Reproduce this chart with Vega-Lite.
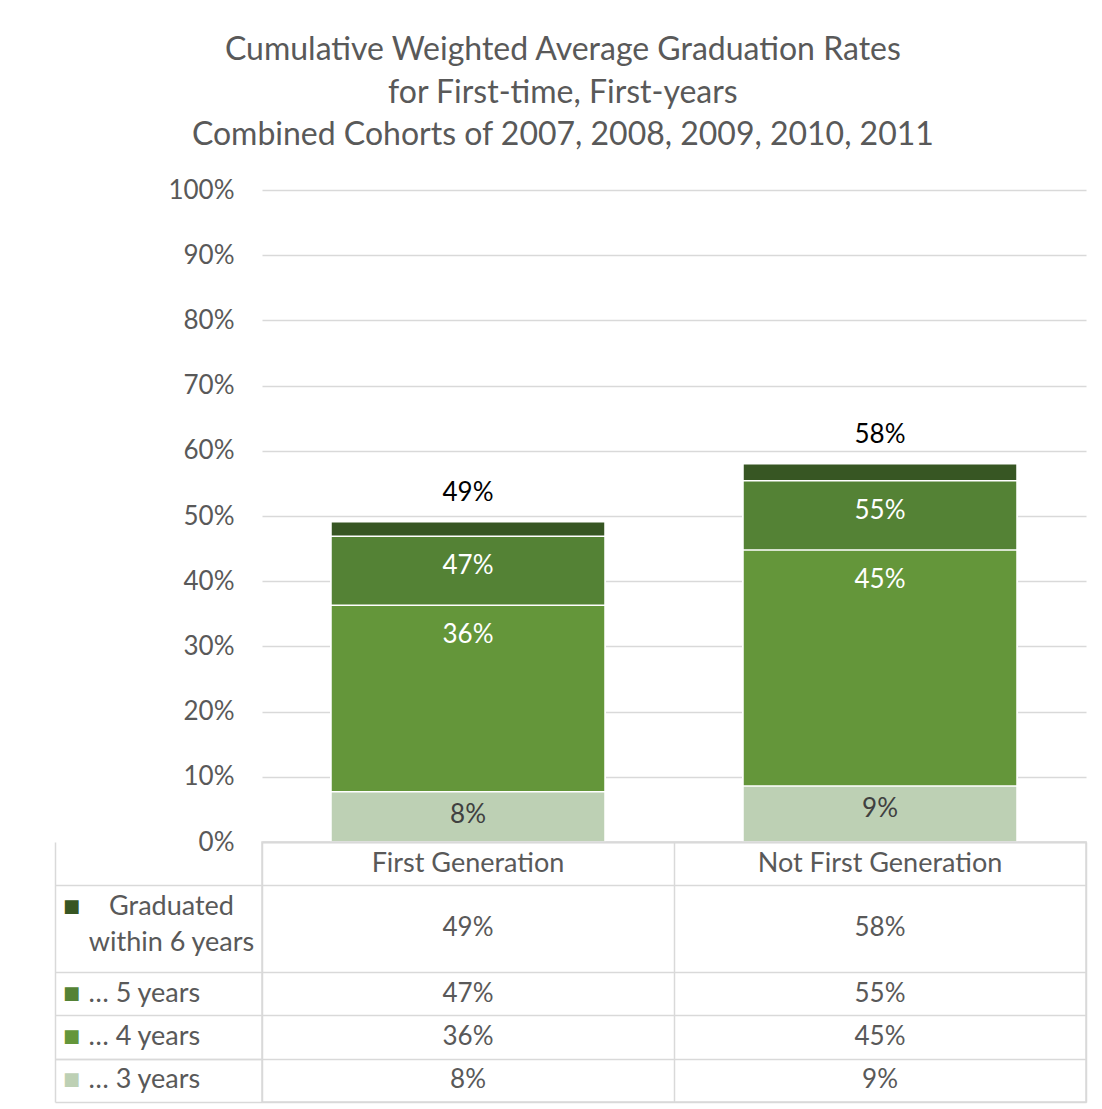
{
  "$schema": "https://vega.github.io/schema/vega-lite/v6.json",
  "background": "white",
  "padding": {"left": 55, "top": 34, "right": 10, "bottom": 5},
  "title": {
    "text": ["Cumulative Weighted Average Graduation Rates", "for First-time, First-years", "Combined Cohorts of 2007, 2008, 2009, 2010, 2011"],
    "fontSize": 32,
    "fontWeight": "normal",
    "color": "#595959",
    "lineHeight": 42.5,
    "anchor": "middle",
    "dx": -8,
    "offset": 25
  },
  "datasets": {
    "bars": [
      {"category": "First Generation", "series": "Graduated within 6 years", "value": 0.491},
      {"category": "First Generation", "series": "… 5 years", "value": 0.469},
      {"category": "First Generation", "series": "… 4 years", "value": 0.363},
      {"category": "First Generation", "series": "… 3 years", "value": 0.077},
      {"category": "Not First Generation", "series": "Graduated within 6 years", "value": 0.58},
      {"category": "Not First Generation", "series": "… 5 years", "value": 0.554},
      {"category": "Not First Generation", "series": "… 4 years", "value": 0.448},
      {"category": "Not First Generation", "series": "… 3 years", "value": 0.086}
    ],
    "legendRows": [
      {"series": "Graduated within 6 years", "label": "Graduated\nwithin 6 years"},
      {"series": "… 5 years", "label": "… 5 years"},
      {"series": "… 4 years", "label": "… 4 years"},
      {"series": "… 3 years", "label": "… 3 years"}
    ]
  },
  "columns": 2,
  "spacing": 0,
  "bounds": "flush",
  "concat": [
    {
      "width": 207,
      "height": 652,
      "data": {"values": [{"k": 1}]},
      "mark": {"type": "point", "opacity": 0},
      "encoding": {}
    },
    {
      "width": 824,
      "height": 652,
      "data": {"name": "bars"},
      "encoding": {
        "x": {
          "field": "category", "type": "nominal", "sort": null,
          "scale": {"paddingInner": 0.335, "paddingOuter": 0.1675},
          "axis": {"title": null, "labels": false, "ticks": false, "domain": true, "domainColor": "#d9d9d9", "domainWidth": 1.5, "grid": false}
        },
        "y": {
          "field": "value", "type": "quantitative", "stack": null,
          "scale": {"domain": [0, 1], "nice": false},
          "axis": {
            "title": null, "format": ".0%",
            "values": [0, 0.1, 0.2, 0.3, 0.4, 0.5, 0.6, 0.7, 0.8, 0.9, 1],
            "grid": true, "gridColor": "#d9d9d9", "gridWidth": 1.3,
            "ticks": false, "domain": false,
            "labelPadding": 28, "labelFontSize": 26, "labelColor": "#595959"
          }
        }
      },
      "layer": [
        {
          "mark": {"type": "bar", "stroke": "white", "strokeWidth": 1.5},
          "encoding": {
            "color": {
              "field": "series", "type": "nominal",
              "scale": {
                "domain": ["Graduated within 6 years", "… 5 years", "… 4 years", "… 3 years"],
                "range": ["#375623", "#548235", "#64963A", "#BDD0B4"]
              },
              "legend": null
            }
          }
        },
        {
          "transform": [{"filter": "datum.series === '… 3 years'"}],
          "mark": {"type": "text", "baseline": "middle", "dy": 23, "fontSize": 26, "color": "#404040"},
          "encoding": {"text": {"field": "value", "type": "quantitative", "format": ".0%"}}
        },
        {
          "transform": [{"filter": "datum.series === '… 4 years' || datum.series === '… 5 years'"}],
          "mark": {"type": "text", "baseline": "middle", "dy": 30, "fontSize": 26, "color": "white"},
          "encoding": {"text": {"field": "value", "type": "quantitative", "format": ".0%"}}
        },
        {
          "transform": [{"filter": "datum.series === 'Graduated within 6 years'"}],
          "mark": {"type": "text", "baseline": "middle", "dy": -29, "fontSize": 26, "color": "#000000"},
          "encoding": {"text": {"field": "value", "type": "quantitative", "format": ".0%"}}
        }
      ]
    },
    {
      "width": 207,
      "height": 260,
      "data": {"name": "legendRows"},
      "encoding": {
        "y": {
          "field": "series", "type": "nominal",
          "scale": {
            "domain": ["… 3 years", "… 4 years", "… 5 years", "Graduated within 6 years (2)", "Graduated within 6 years", "Category"],
            "reverse": true,
            "paddingInner": 0, "paddingOuter": 0
          },
          "axis": {
            "title": null, "labels": false, "ticks": false,
            "domain": true, "domainColor": "#d9d9d9", "domainWidth": 1.5,
            "grid": true, "gridColor": "#d9d9d9", "gridWidth": 1.5,
            "values": ["… 3 years", "… 4 years", "… 5 years", "Graduated within 6 years (2)", "Category"],
            "tickBand": "extent"
          }
        }
      },
      "layer": [
        {
          "mark": {"type": "text", "text": "■", "font": "DejaVu Sans", "fontSize": 18, "dx": -87, "baseline": "middle"},
          "encoding": {
            "color": {
              "field": "series", "type": "nominal",
              "scale": {
                "domain": ["Graduated within 6 years", "… 5 years", "… 4 years", "… 3 years"],
                "range": ["#375623", "#548235", "#64963A", "#BDD0B4"]
              },
              "legend": null
            }
          }
        },
        {
          "transform": [{"filter": "datum.series !== 'Graduated within 6 years'"}],
          "mark": {"type": "text", "align": "left", "baseline": "middle", "dx": -70, "fontSize": 27, "color": "#595959"},
          "encoding": {"text": {"field": "label"}}
        },
        {
          "transform": [{"filter": "datum.series === 'Graduated within 6 years'"}],
          "mark": {"type": "text", "align": "center", "baseline": "middle", "dx": 13, "fontSize": 27, "lineHeight": 36, "lineBreak": "\n", "color": "#595959"},
          "encoding": {"text": {"field": "label"}}
        }
      ]
    },
    {
      "width": 824,
      "height": 260,
      "view": {"stroke": "#d9d9d9", "strokeWidth": 1.5},
      "data": {"name": "bars"},
      "encoding": {
        "x": {
          "field": "category", "type": "nominal", "sort": null,
          "scale": {"paddingInner": 0, "paddingOuter": 0},
          "axis": {"title": null, "labels": false, "ticks": false, "domain": false, "grid": true, "gridColor": "#d9d9d9", "gridWidth": 1.5, "tickBand": "extent"}
        },
        "y": {
          "field": "series", "type": "nominal",
          "scale": {
            "domain": ["Category", "Graduated within 6 years", "Graduated within 6 years (2)", "… 5 years", "… 4 years", "… 3 years"],
            "paddingInner": 0, "paddingOuter": 0
          },
          "axis": {
            "title": null, "labels": false, "ticks": false, "domain": false,
            "grid": true, "gridColor": "#d9d9d9", "gridWidth": 1.5,
            "values": ["Category", "Graduated within 6 years (2)", "… 5 years", "… 4 years", "… 3 years"],
            "tickBand": "extent"
          }
        }
      },
      "layer": [
        {
          "transform": [{"filter": "datum.series === '… 3 years'"}],
          "mark": {"type": "text", "baseline": "middle", "fontSize": 27, "color": "#595959"},
          "encoding": {
            "y": {"datum": "Category"},
            "text": {"field": "category"}
          }
        },
        {
          "transform": [{"filter": "datum.series !== 'Graduated within 6 years'"}],
          "mark": {"type": "text", "baseline": "middle", "fontSize": 26, "color": "#595959"},
          "encoding": {"text": {"field": "value", "type": "quantitative", "format": ".0%"}}
        },
        {
          "transform": [{"filter": "datum.series === 'Graduated within 6 years'"}],
          "mark": {"type": "text", "baseline": "middle", "dy": 21, "fontSize": 26, "color": "#595959"},
          "encoding": {"text": {"field": "value", "type": "quantitative", "format": ".0%"}}
        }
      ]
    }
  ],
  "config": {
    "font": "Lato",
    "view": {"stroke": null},
    "axis": {"labelFont": "Lato"}
  }
}
